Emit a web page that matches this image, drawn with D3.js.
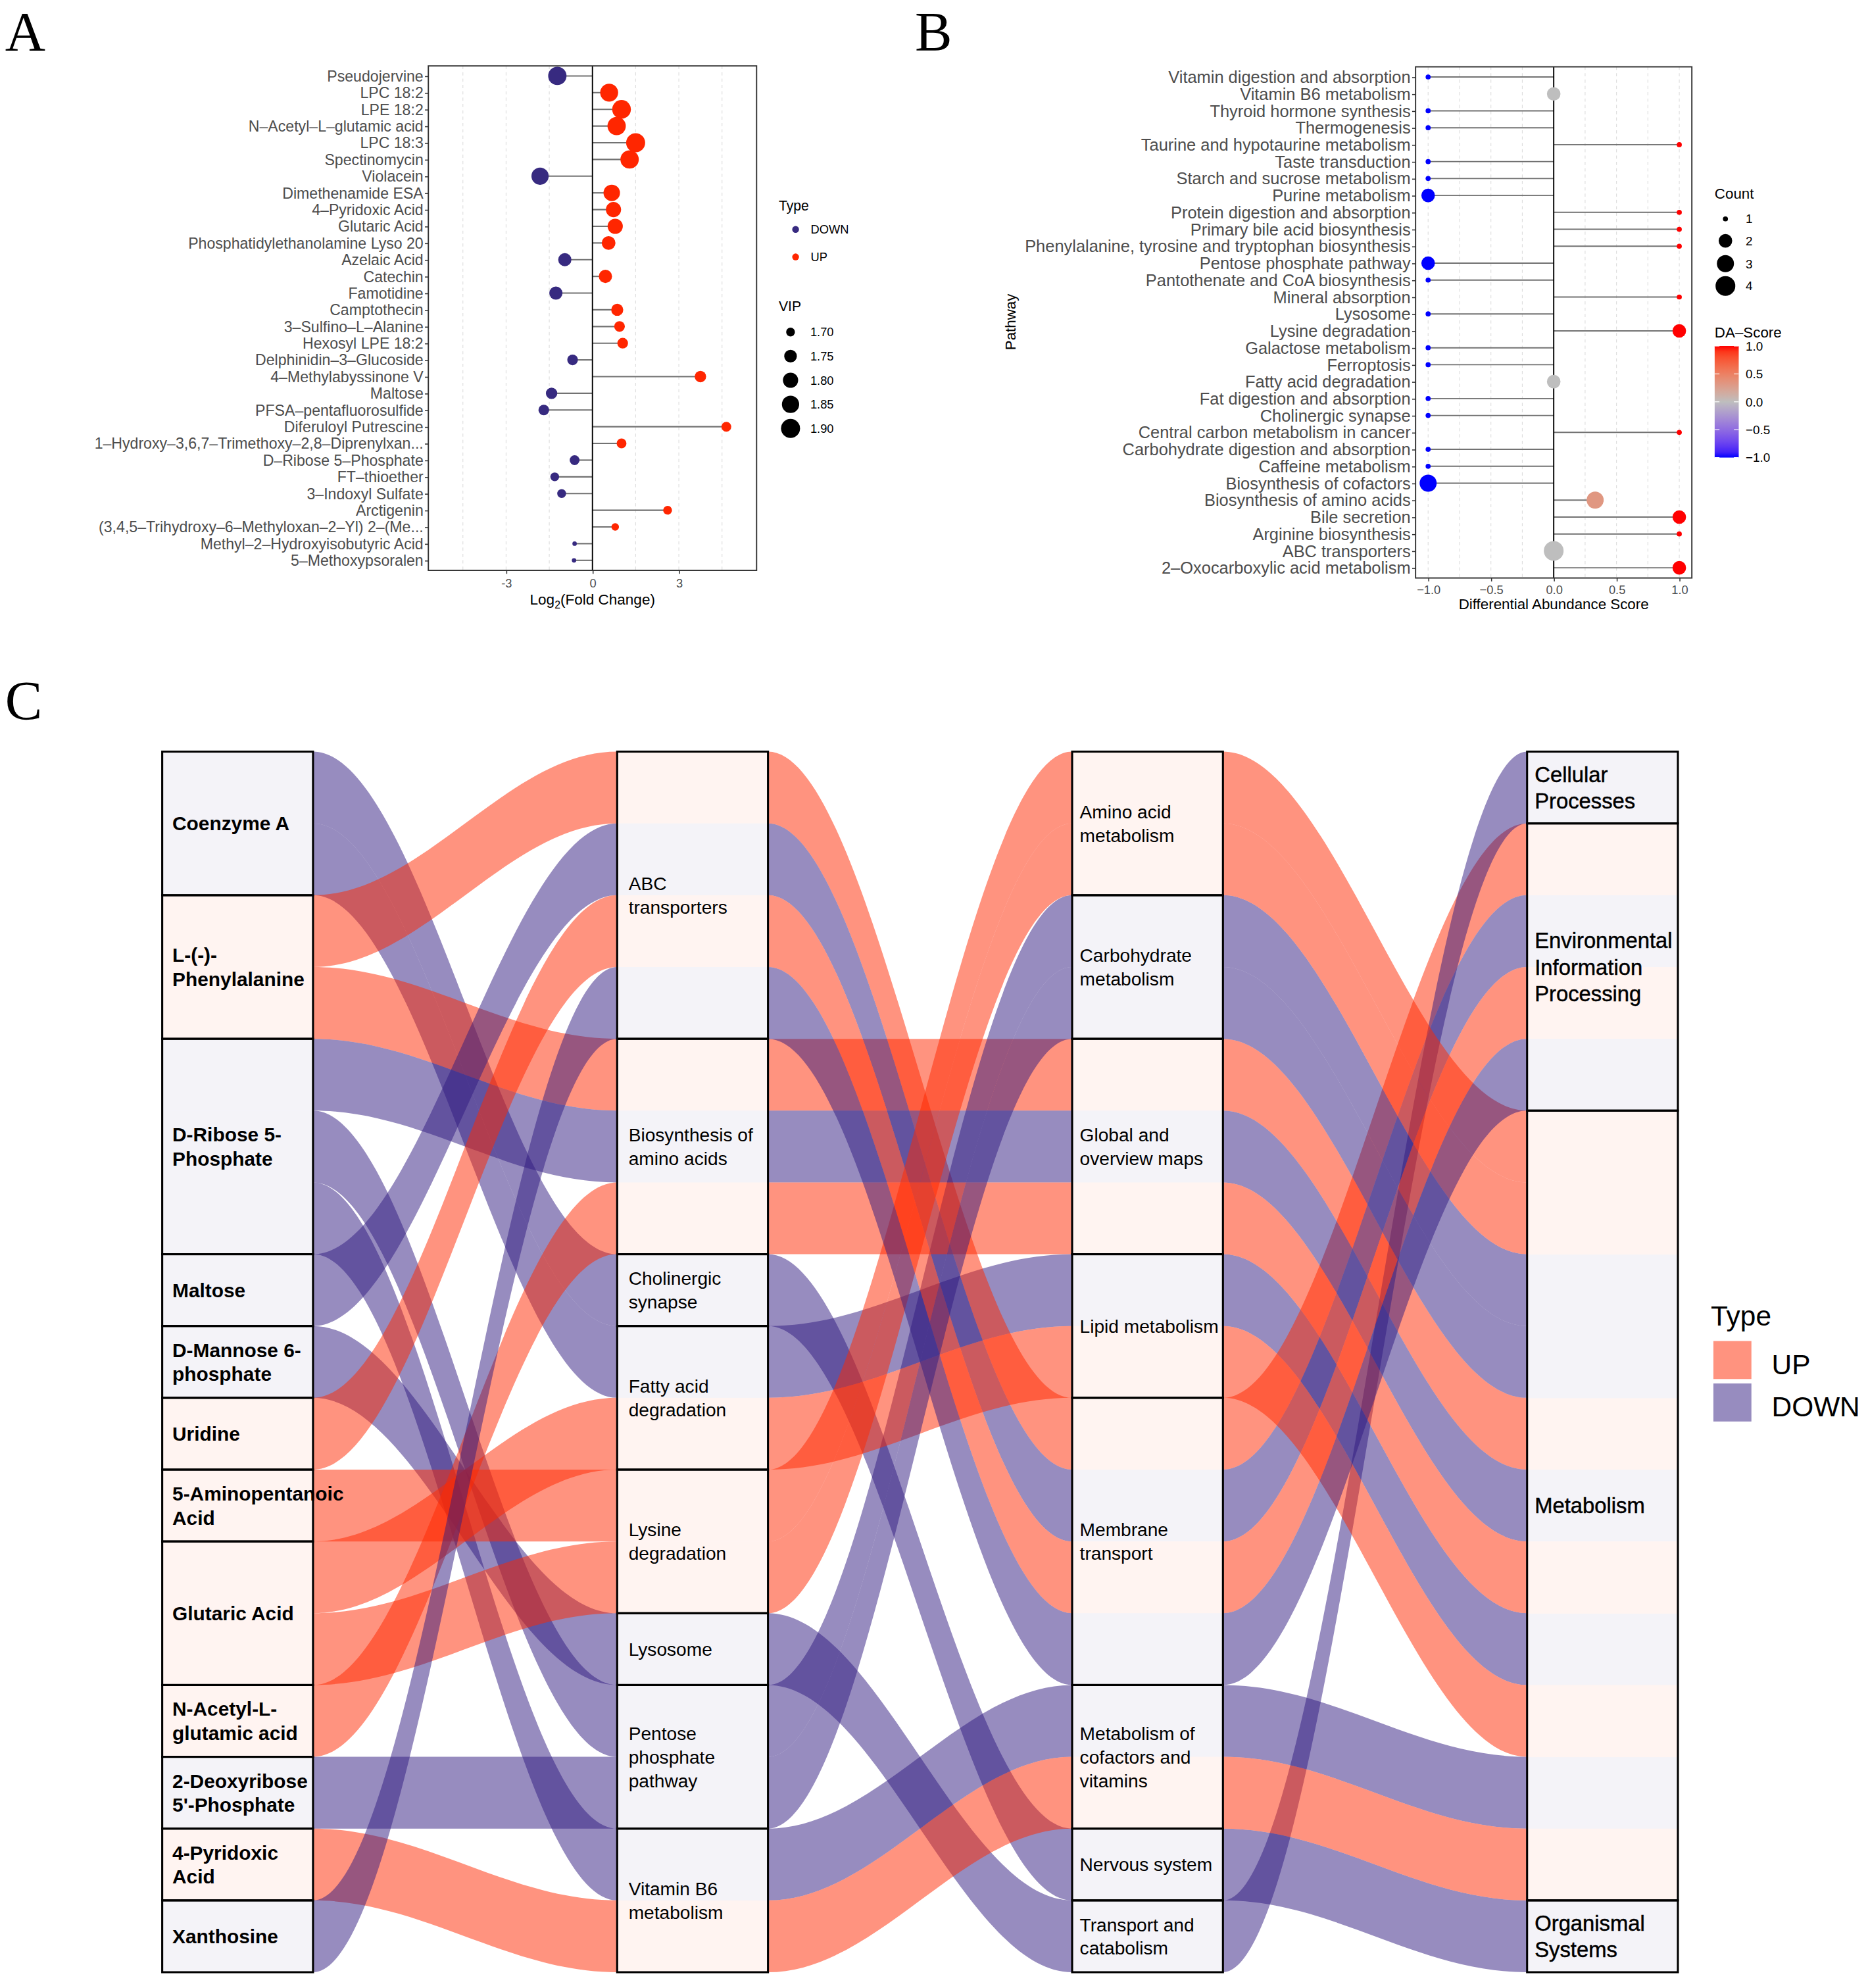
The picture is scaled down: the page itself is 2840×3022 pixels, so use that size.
<!DOCTYPE html>
<html>
<head>
<meta charset="utf-8">
<script src="https://cdn.jsdelivr.net/npm/d3@7"></script>
<style>
  html, body { margin: 0; padding: 0; background: #fff; }
  svg { display: block; }
</style>
</head>
<body>
<script>
// Panel A: differential metabolites
var metaboliteNames = ["Pseudojervine", "LPC 18:2", "LPE 18:2", "N-Acetyl-L-glutamic acid", "LPC 18:3",
  "Spectinomycin", "Violacein", "Dimethenamide ESA", "4-Pyridoxic Acid", "Glutaric Acid",
  "Phosphatidylethanolamine Lyso 20", "Azelaic Acid", "Catechin", "Famotidine", "Camptothecin",
  "3-Sulfino-L-Alanine", "Hexosyl LPE 18:2", "Delphinidin-3-Glucoside", "4-Methylabyssinone V", "Maltose",
  "PFSA-pentafluorosulfide", "Diferuloyl Putrescine", "1-Hydroxy-3,6,7-Trimethoxy-2,8-Diprenylxan...",
  "D-Ribose 5-Phosphate", "FT-thioether", "3-Indoxyl Sulfate", "Arctigenin",
  "(3,4,5-Trihydroxy-6-Methyloxan-2-Yl) 2-(Me...", "Methyl-2-Hydroxyisobutyric Acid", "5-Methoxypsoralen"];
var log2FC = [-1.22, 0.58, 1.01, 0.84, 1.50, 1.29, -1.82, 0.67, 0.73, 0.79,
  0.56, -0.96, 0.45, -1.27, 0.86, 0.94, 1.05, -0.69, 3.75, -1.42,
  -1.69, 4.65, 1.01, -0.62, -1.31, -1.07, 2.61, 0.79, -0.62, -0.64];
var vip = [1.88, 1.87, 1.89, 1.88, 1.90, 1.88, 1.85, 1.83, 1.80, 1.80,
  1.77, 1.76, 1.76, 1.76, 1.74, 1.72, 1.72, 1.72, 1.73, 1.73,
  1.72, 1.71, 1.71, 1.71, 1.70, 1.70, 1.70, 1.69, 1.68, 1.68];
var typeLevels = ["DOWN", "UP"];
var vipLegend = [1.70, 1.75, 1.80, 1.85, 1.90];
var fcTicks = [-3, 0, 3];
var fcGrid = [-4.5, -3, -1.5, 1.5, 3, 4.5];

// Panel B: differential abundance score
var pathwayNames = ["Vitamin digestion and absorption", "Vitamin B6 metabolism", "Thyroid hormone synthesis",
  "Thermogenesis", "Taurine and hypotaurine metabolism", "Taste transduction", "Starch and sucrose metabolism",
  "Purine metabolism", "Protein digestion and absorption", "Primary bile acid biosynthesis",
  "Phenylalanine, tyrosine and tryptophan biosynthesis", "Pentose phosphate pathway",
  "Pantothenate and CoA biosynthesis", "Mineral absorption", "Lysosome", "Lysine degradation",
  "Galactose metabolism", "Ferroptosis", "Fatty acid degradation", "Fat digestion and absorption",
  "Cholinergic synapse", "Central carbon metabolism in cancer", "Carbohydrate digestion and absorption",
  "Caffeine metabolism", "Biosynthesis of cofactors", "Biosynthesis of amino acids", "Bile secretion",
  "Arginine biosynthesis", "ABC transporters", "2-Oxocarboxylic acid metabolism"];
var daScore = [-1, 0, -1, -1, 1, -1, -1, -1, 1, 1, 1, -1, -1, 1, -1, 1, -1, -1, 0, -1,
  -1, 1, -1, -1, -1, 0.33, 1, 1, 0, 1];
var pathwayCount = [1, 2, 1, 1, 1, 1, 1, 2, 1, 1, 1, 2, 1, 1, 1, 2, 1, 1, 2, 1,
  1, 1, 1, 1, 3, 3, 2, 1, 4, 2];
var daTicks = [-1, -0.5, 0, 0.5, 1];
var daGrid = [-1, -0.75, -0.5, -0.25, 0.25, 0.5, 0.75, 1];
var countLegend = [1, 2, 3, 4];

// Panel C: alluvial plot
var sankeyMetabolites = ["Coenzyme A", "L-(-)-Phenylalanine", "D-Ribose 5-Phosphate", "Maltose",
  "D-Mannose 6-phosphate", "Uridine", "5-Aminopentanoic Acid", "Glutaric Acid", "N-Acetyl-L-glutamic acid",
  "2-Deoxyribose 5'-Phosphate", "4-Pyridoxic Acid", "Xanthosine"];
var metaboliteLabels = ["Coenzyme A", "L-(-)-\nPhenylalanine", "D-Ribose 5-\nPhosphate", "Maltose",
  "D-Mannose 6-\nphosphate", "Uridine", "5-Aminopentanoic\nAcid", "Glutaric Acid", "N-Acetyl-L-\nglutamic acid",
  "2-Deoxyribose\n5'-Phosphate", "4-Pyridoxic\nAcid", "Xanthosine"];
var sankeyPathways = ["ABC transporters", "Biosynthesis of amino acids", "Cholinergic synapse",
  "Fatty acid degradation", "Lysine degradation", "Lysosome", "Pentose phosphate pathway", "Vitamin B6 metabolism"];
var pathwayLabels = ["ABC\ntransporters", "Biosynthesis of\namino acids", "Cholinergic\nsynapse",
  "Fatty acid\ndegradation", "Lysine\ndegradation", "Lysosome", "Pentose\nphosphate\npathway", "Vitamin B6\nmetabolism"];
var pathwayCategory = ["Membrane transport", "Global and overview maps", "Nervous system", "Lipid metabolism",
  "Amino acid metabolism", "Transport and catabolism", "Carbohydrate metabolism", "Metabolism of cofactors and vitamins"];
var sankeyCategories = ["Amino acid metabolism", "Carbohydrate metabolism", "Global and overview maps",
  "Lipid metabolism", "Membrane transport", "Metabolism of cofactors and vitamins", "Nervous system",
  "Transport and catabolism"];
var categoryLabels = ["Amino acid\nmetabolism", "Carbohydrate\nmetabolism", "Global and\noverview maps",
  "Lipid metabolism", "Membrane\ntransport", "Metabolism of\ncofactors and\nvitamins", "Nervous system",
  "Transport and\ncatabolism"];
var categoryClass = ["Metabolism", "Metabolism", "Metabolism", "Metabolism", "Environmental Information Processing",
  "Metabolism", "Organismal Systems", "Cellular Processes"];
var sankeyClasses = ["Cellular Processes", "Environmental Information Processing", "Metabolism", "Organismal Systems"];
var classLabels = ["Cellular\nProcesses", "Environmental\nInformation\nProcessing", "Metabolism", "Organismal\nSystems"];

var flowMetabolite = ["Coenzyme A", "Coenzyme A", "L-(-)-Phenylalanine", "L-(-)-Phenylalanine",
  "D-Ribose 5-Phosphate", "D-Ribose 5-Phosphate", "D-Ribose 5-Phosphate", "Maltose", "D-Mannose 6-phosphate",
  "Uridine", "5-Aminopentanoic Acid", "Glutaric Acid", "Glutaric Acid", "N-Acetyl-L-glutamic acid",
  "2-Deoxyribose 5'-Phosphate", "4-Pyridoxic Acid", "Xanthosine"];
var flowPathway = ["Cholinergic synapse", "Fatty acid degradation", "ABC transporters", "Biosynthesis of amino acids",
  "Biosynthesis of amino acids", "Pentose phosphate pathway", "Vitamin B6 metabolism", "ABC transporters",
  "Lysosome", "ABC transporters", "Lysine degradation", "Fatty acid degradation", "Lysine degradation",
  "Biosynthesis of amino acids", "Pentose phosphate pathway", "Vitamin B6 metabolism", "ABC transporters"];
var flowType = ["DOWN", "DOWN", "UP", "UP", "DOWN", "DOWN", "DOWN", "DOWN", "DOWN",
  "UP", "UP", "UP", "UP", "UP", "DOWN", "UP", "DOWN"];
var legendTypesC = ["UP", "DOWN"];

// ------------------------------------------------------------
var FONT = '"Liberation Sans", Arial, Helvetica, sans-serif';
var SERIF = '"Liberation Serif", "Times New Roman", serif';
// the R pdf output draws hyphens in axis labels as long dashes
function dash(s) { return String(s).replace(/-/g, "\u2013"); }

var svg = d3.select("body").append("svg")
  .attr("width", 2840).attr("height", 3022)
  .attr("viewBox", "0 0 1474 1568.45")
  .attr("font-family", FONT);

svg.append("rect").attr("width", 1474).attr("height", 1568.45).attr("fill", "#fff");

function panelLabel(t, x, y) {
  svg.append("text").text(t).attr("x", x).attr("y", y)
    .attr("font-family", SERIF).attr("font-size", 44).attr("fill", "#000");
}
panelLabel("A", 4, 40);
panelLabel("B", 722, 40);
panelLabel("C", 4, 568);

// Panel A
// ------------------------------
var A = { left: 338, right: 597, top: 52, bottom: 450 };
var xA = d3.scaleLinear().domain([-5.7, 5.7]).range([A.left, A.right]);
var yA = d3.scalePoint().domain(metaboliteNames).range([A.top, A.bottom]).padding(0.6);
var typeColor = d3.scaleOrdinal().domain(typeLevels).range(["#372A80", "#FF2600"]);
var vipT = d3.scaleLinear().domain(d3.extent(vip)).range([0, 1]);
function vipSize(v) { return 3.5 + 11.5 * Math.sqrt(Math.max(0, vipT(v))); }

var gA = svg.append("g");
gA.selectAll(".grid").data(fcGrid).enter().append("line")
  .attr("x1", function(d) { return xA(d); }).attr("x2", function(d) { return xA(d); })
  .attr("y1", A.top).attr("y2", A.bottom)
  .attr("stroke", "#dedede").attr("stroke-width", 0.6).attr("stroke-dasharray", "2.5,2.5");
gA.selectAll(".seg").data(metaboliteNames).enter().append("line")
  .attr("x1", xA(0)).attr("x2", function(d, i) { return xA(log2FC[i]); })
  .attr("y1", function(d) { return yA(d); }).attr("y2", function(d) { return yA(d); })
  .attr("stroke", "#727272").attr("stroke-width", 1.1);
gA.append("line").attr("x1", xA(0)).attr("x2", xA(0)).attr("y1", A.top).attr("y2", A.bottom)
  .attr("stroke", "#000").attr("stroke-width", 1);
gA.selectAll(".dot").data(metaboliteNames).enter().append("circle")
  .attr("cx", function(d, i) { return xA(log2FC[i]); })
  .attr("cy", function(d) { return yA(d); })
  .attr("r", function(d, i) { return vipSize(vip[i]) / 2; })
  .attr("fill", function(d, i) { return typeColor(log2FC[i] > 0 ? "UP" : "DOWN"); });
gA.append("rect").attr("x", A.left).attr("y", A.top)
  .attr("width", A.right - A.left).attr("height", A.bottom - A.top)
  .attr("fill", "none").attr("stroke", "#333").attr("stroke-width", 1);

var axAy = gA.append("g").attr("transform", "translate(" + A.left + ",0)")
  .call(d3.axisLeft(yA).tickSize(2.7).tickPadding(1.2).tickFormat(dash));
axAy.select(".domain").remove();
axAy.attr("font-size", 12).attr("font-family", FONT);
axAy.selectAll("line").attr("stroke", "#333").attr("stroke-width", 0.8);
axAy.selectAll("text").attr("fill", "#4d4d4d");

var axAx = gA.append("g").attr("transform", "translate(0," + A.bottom + ")")
  .call(d3.axisBottom(xA).tickValues(fcTicks).tickSize(2.7).tickPadding(4)
    .tickFormat(function(d) { return String(d); }));
axAx.select(".domain").remove();
axAx.attr("font-size", 9.5).attr("font-family", FONT);
axAx.selectAll("line").attr("stroke", "#333").attr("stroke-width", 0.8);
axAx.selectAll("text").attr("fill", "#4d4d4d");

var titleA = gA.append("text").attr("x", xA(0)).attr("y", 477)
  .attr("text-anchor", "middle").attr("font-size", 11.7).attr("fill", "#000");
titleA.append("tspan").text("Log");
titleA.append("tspan").text("2").attr("font-size", 8.2).attr("dy", 3);
titleA.append("tspan").text("(Fold Change)").attr("dy", -3);

// legend A
gA.append("text").text("Type").attr("x", 614.5).attr("y", 166).attr("font-size", 11);
typeLevels.forEach(function(t, i) {
  var y = 181 + i * 21.7;
  gA.append("circle").attr("cx", 627.8).attr("cy", y).attr("r", 2.7).attr("fill", typeColor(t));
  gA.append("text").text(t).attr("x", 639.7).attr("y", y + 3.4).attr("font-size", 9.5);
});
gA.append("text").text("VIP").attr("x", 614.5).attr("y", 245.5).attr("font-size", 11);
vipLegend.forEach(function(v, i) {
  var y = 262 + i * 19;
  gA.append("circle").attr("cx", 623.8).attr("cy", y).attr("r", vipSize(v) / 2).attr("fill", "#000");
  gA.append("text").text(v.toFixed(2)).attr("x", 639.4).attr("y", y + 3.4).attr("font-size", 9.5);
});

// Panel B
// ------------------------------
var B = { left: 1117, right: 1335, top: 52.7, bottom: 456 };
var xB = d3.scaleLinear().domain([-1.1, 1.1]).range([B.left, B.right]);
var yB = d3.scalePoint().domain(pathwayNames).range([B.top, B.bottom]).padding(0.6);
var colorB = d3.scaleLinear().domain([-1, 0, 1]).range(["#0000FF", "#BEBEBE", "#FF0000"])
  .interpolate(d3.interpolateLab);
var countT = d3.scaleLinear().domain(d3.extent(pathwayCount)).range([0, 1]);
function countSize(c) { return 4 + 11.6 * Math.sqrt(countT(c)); }

var gB = svg.append("g");
gB.selectAll(".grid").data(daGrid).enter().append("line")
  .attr("x1", function(d) { return xB(d); }).attr("x2", function(d) { return xB(d); })
  .attr("y1", B.top).attr("y2", B.bottom)
  .attr("stroke", "#dedede").attr("stroke-width", 0.6).attr("stroke-dasharray", "2.5,2.5");
gB.selectAll(".seg").data(pathwayNames).enter().append("line")
  .attr("x1", xB(0)).attr("x2", function(d, i) { return xB(daScore[i]); })
  .attr("y1", function(d) { return yB(d); }).attr("y2", function(d) { return yB(d); })
  .attr("stroke", "#727272").attr("stroke-width", 1);
gB.append("line").attr("x1", xB(0)).attr("x2", xB(0)).attr("y1", B.top).attr("y2", B.bottom)
  .attr("stroke", "#000").attr("stroke-width", 1);
gB.selectAll(".dot").data(pathwayNames).enter().append("circle")
  .attr("cx", function(d, i) { return xB(daScore[i]); })
  .attr("cy", function(d) { return yB(d); })
  .attr("r", function(d, i) { return countSize(pathwayCount[i]) / 2; })
  .attr("fill", function(d, i) { return colorB(daScore[i]); });
gB.append("rect").attr("x", B.left).attr("y", B.top)
  .attr("width", B.right - B.left).attr("height", B.bottom - B.top)
  .attr("fill", "none").attr("stroke", "#333").attr("stroke-width", 1);

var axBy = gB.append("g").attr("transform", "translate(" + B.left + ",0)")
  .call(d3.axisLeft(yB).tickSize(2.7).tickPadding(1.2).tickFormat(dash));
axBy.select(".domain").remove();
axBy.attr("font-size", 13.2).attr("font-family", FONT);
axBy.selectAll("line").attr("stroke", "#333").attr("stroke-width", 0.8);
axBy.selectAll("text").attr("fill", "#4d4d4d");

var axBx = gB.append("g").attr("transform", "translate(0," + B.bottom + ")")
  .call(d3.axisBottom(xB).tickValues(daTicks).tickSize(2.7).tickPadding(3).tickFormat(d3.format(".1f")));
axBx.select(".domain").remove();
axBx.attr("font-size", 9.5).attr("font-family", FONT);
axBx.selectAll("line").attr("stroke", "#333").attr("stroke-width", 0.8);
axBx.selectAll("text").attr("fill", "#4d4d4d");

gB.append("text").text("Differential Abundance Score").attr("x", xB(0)).attr("y", 480.5)
  .attr("text-anchor", "middle").attr("font-size", 11.6);
gB.append("text").text("Pathway").attr("transform", "translate(801.5,254) rotate(-90)")
  .attr("text-anchor", "middle").attr("font-size", 11.6);

// legend B
gB.append("text").text("Count").attr("x", 1353).attr("y", 157).attr("font-size", 11.6);
countLegend.forEach(function(c, i) {
  var y = [172.7, 190, 208, 225.6][i];
  gB.append("circle").attr("cx", 1361.5).attr("cy", y).attr("r", countSize(c) / 2).attr("fill", "#000");
  gB.append("text").text(c).attr("x", 1377.5).attr("y", y + 3.5).attr("font-size", 9.8);
});
gB.append("text").text(dash("DA-Score")).attr("x", 1353).attr("y", 266.5).attr("font-size", 11.6);
var yBar = d3.scaleLinear().domain([-1, 1]).range([361, 273]);
var grad = svg.append("defs").append("linearGradient").attr("id", "daGrad")
  .attr("x1", 0).attr("y1", 1).attr("x2", 0).attr("y2", 0);
d3.range(0, 1.0001, 0.05).forEach(function(t) {
  grad.append("stop").attr("offset", t).attr("stop-color", colorB(-1 + 2 * t));
});
gB.append("rect").attr("x", 1353).attr("y", yBar(1)).attr("width", 19)
  .attr("height", yBar(-1) - yBar(1)).attr("fill", "url(#daGrad)");
daTicks.forEach(function(v) {
  [[1353, 1356.8], [1368.2, 1372]].forEach(function(xx) {
    gB.append("line").attr("x1", xx[0]).attr("x2", xx[1]).attr("y1", yBar(v)).attr("y2", yBar(v))
      .attr("stroke", "#fff").attr("stroke-width", 0.6);
  });
  gB.append("text").text(d3.format(".1f")(v)).attr("x", 1377.5).attr("y", yBar(v) + 3.5)
    .attr("font-size", 9.8);
});

// Panel C
// ------------------------------
var C = { top: 593, bottom: 1556, colW: 119 };
var axesC = [sankeyMetabolites, sankeyPathways, sankeyCategories, sankeyClasses];
var labelsC = [metaboliteLabels, pathwayLabels, categoryLabels, classLabels];
var xC = d3.scalePoint().domain(d3.range(axesC.length)).range([187.5, 1264.5]);
var yC = d3.scaleLinear().domain([0, flowType.length]).range([C.top, C.bottom]);
var unit = yC(1) - yC(0);
var flowFill = d3.scaleOrdinal().domain(["UP", "DOWN"]).range(["#FF2700", "#2F197F"]);
var lodeTint = d3.scaleOrdinal().domain(["UP", "DOWN"]).range(["#FFF4F1", "#F4F3F8"]);

var alluvia = flowType.map(function(t, i) {
  var p = flowPathway[i];
  var c = pathwayCategory[sankeyPathways.indexOf(p)];
  var k = categoryClass[sankeyCategories.indexOf(c)];
  var names = [flowMetabolite[i], p, c, k];
  return { type: t, idx: names.map(function(n, a) { return axesC[a].indexOf(n); }) };
});

// lode positions inside each stratum, sorted so flows cross as little as possible
function lodeOrder(keyFn) {
  var ids = d3.range(alluvia.length);
  ids.sort(function(a, b) {
    var ka = keyFn(a), kb = keyFn(b);
    for (var j = 0; j < ka.length; j++) { if (ka[j] !== kb[j]) return ka[j] - kb[j]; }
    return 0;
  });
  var pos = [];
  ids.forEach(function(id, j) { pos[id] = j; });
  return pos;
}
var lodeL = [], lodeR = [];
lodeR[0] = lodeOrder(function(i) { return [alluvia[i].idx[0], alluvia[i].idx[1], i]; });
lodeL[0] = lodeR[0];
for (var a = 1; a < axesC.length; a++) {
  lodeL[a] = lodeOrder(function(i) { return [alluvia[i].idx[a], alluvia[i].idx[a - 1], lodeR[a - 1][i]]; });
  lodeR[a] = a < axesC.length - 1
    ? lodeOrder(function(i) { return [alluvia[i].idx[a], alluvia[i].idx[a + 1], lodeL[a][i]]; })
    : lodeL[a];
}

var flows = [];
for (var f = 0; f < axesC.length - 1; f++) {
  alluvia.forEach(function(al, i) {
    flows.push({ a: f, type: al.type, y0: yC(lodeR[f][i]), y1: yC(lodeL[f + 1][i]) });
  });
}
function ribbon(d) {
  var x0 = xC(d.a) + C.colW / 2, x1 = xC(d.a + 1) - C.colW / 2, k = 0.36 * (x1 - x0);
  var p = d3.path();
  p.moveTo(x0, d.y0);
  p.bezierCurveTo(x0 + k, d.y0, x1 - k, d.y1, x1, d.y1);
  p.lineTo(x1, d.y1 + unit);
  p.bezierCurveTo(x1 - k, d.y1 + unit, x0 + k, d.y0 + unit, x0, d.y0 + unit);
  p.closePath();
  return p.toString();
}
var gC = svg.append("g");
gC.selectAll(".flow").data(flows).enter().append("path")
  .attr("d", ribbon)
  .attr("fill", function(d) { return flowFill(d.type); })
  .attr("fill-opacity", 0.5);

// tinted lodes inside strata
axesC.forEach(function(names, ax) {
  gC.selectAll(".lode" + ax).data(alluvia).enter().append("rect")
    .attr("x", xC(ax) - C.colW / 2).attr("width", C.colW)
    .attr("y", function(d, i) { return yC(lodeL[ax][i]); })
    .attr("height", unit + 0.3)
    .attr("fill", function(d) { return lodeTint(d.type); });
});

var fontC = [15.5, 14.6, 14.6, 17], weightC = ["bold", "normal", "normal", "normal"];
var strokeC = [0, 0, 0, 0.25];
var lineC = [19, 18.6, 18.6, 21], padC = [8, 9, 6, 6];
axesC.forEach(function(names, ax) {
  var start = 0;
  names.forEach(function(n, s) {
    var cnt = alluvia.filter(function(d) { return d.idx[ax] === s; }).length;
    var y0 = yC(start), y1 = yC(start + cnt);
    gC.append("rect").attr("x", xC(ax) - C.colW / 2).attr("y", y0)
      .attr("width", C.colW).attr("height", y1 - y0)
      .attr("fill", "none").attr("stroke", "#000").attr("stroke-width", 1.6);
    var lines = labelsC[ax][s].split("\n");
    var cy = (y0 + y1) / 2;
    var t = gC.append("text").attr("font-size", fontC[ax]).attr("font-weight", weightC[ax])
      .attr("fill", "#000");
    if (strokeC[ax]) t.attr("stroke", "#000").attr("stroke-width", strokeC[ax]);
    lines.forEach(function(line, j) {
      t.append("tspan").text(line).attr("x", xC(ax) - C.colW / 2 + padC[ax])
        .attr("y", cy + (j - (lines.length - 1) / 2) * lineC[ax] + 0.36 * fontC[ax]);
    });
    start += cnt;
  });
});

// legend C
gC.append("text").text("Type").attr("x", 1350).attr("y", 1046).attr("font-size", 22);
legendTypesC.forEach(function(t, i) {
  var y = 1058 + i * 33.5;
  gC.append("rect").attr("x", 1352).attr("y", y).attr("width", 30).attr("height", 30)
    .attr("fill", flowFill(t)).attr("fill-opacity", 0.5);
  gC.append("text").text(t).attr("x", 1398).attr("y", y + 26).attr("font-size", 22);
});
</script>
</body>
</html>
